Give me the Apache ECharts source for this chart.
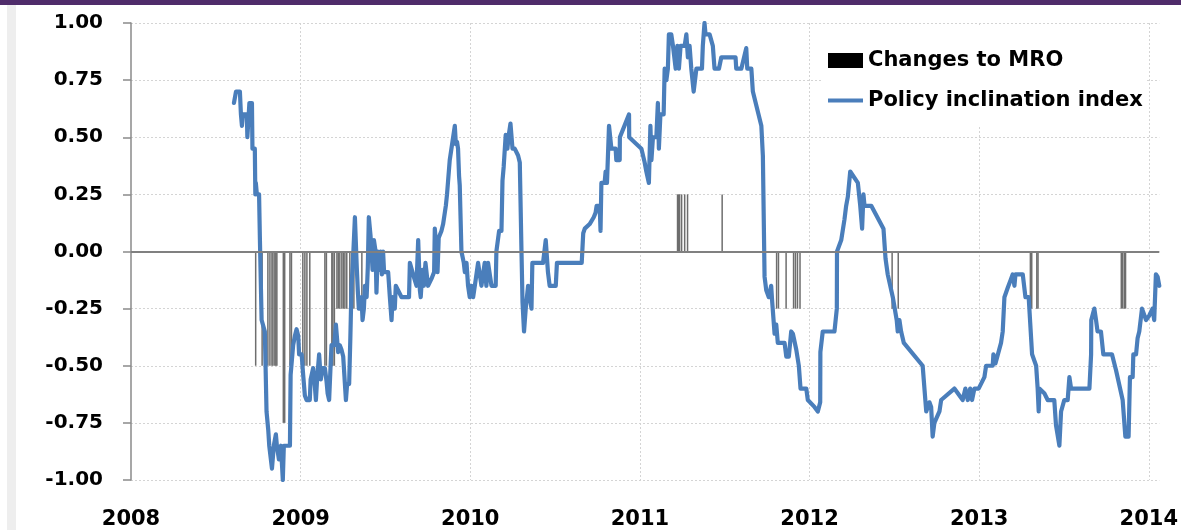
<!DOCTYPE html>
<html>
<head>
<meta charset="utf-8">
<script src="https://cdn.jsdelivr.net/npm/echarts@6/dist/echarts.min.js"></script>
<style>
html,body{margin:0;padding:0;background:#fff;}
#chart{width:1181px;height:530px;}
</style>
</head>
<body>
<div id="chart"></div>
<script>
// ---- DATA (x in decimal years) ----
const yearTicks = [2008, 2009, 2010, 2011, 2012, 2013, 2014];
const valueTicks = [-1.00, -0.75, -0.50, -0.25, 0.00, 0.25, 0.50, 0.75, 1.00];

const policyDates = [
2008.607,2008.613,2008.619,2008.642,2008.648,2008.654,2008.660,2008.683,2008.686,2008.695,
2008.698,2008.713,2008.716,2008.730,2008.733,2008.736,2008.742,2008.755,2008.760,2008.770,
2008.789,2008.799,2008.809,2008.815,2008.825,2008.831,2008.842,2008.854,2008.860,2008.872,
2008.884,2008.890,2008.895,2008.901,2008.937,2008.941,2008.956,2008.966,2008.976,2008.986,
2008.991,2009.006,2009.015,2009.025,2009.035,2009.054,2009.059,2009.070,2009.074,2009.084,
2009.090,2009.097,2009.109,2009.119,2009.129,2009.143,2009.153,2009.159,2009.168,2009.176,
2009.182,2009.198,2009.208,2009.215,2009.221,2009.231,2009.241,2009.251,2009.267,2009.274,
2009.286,2009.293,2009.300,2009.308,2009.320,2009.330,2009.331,2009.337,2009.343,2009.359,
2009.365,2009.373,2009.379,2009.389,2009.396,2009.402,2009.412,2009.418,2009.424,2009.432,
2009.442,2009.447,2009.455,2009.461,2009.471,2009.479,2009.486,2009.492,2009.516,2009.526,
2009.536,2009.542,2009.555,2009.561,2009.595,2009.604,2009.639,2009.644,2009.654,2009.663,
2009.683,2009.693,2009.703,2009.708,2009.718,2009.726,2009.736,2009.746,2009.751,2009.771,
2009.787,2009.791,2009.801,2009.807,2009.814,2009.830,2009.840,2009.856,2009.863,2009.869,
2009.879,2009.889,2009.909,2009.915,2009.922,2009.928,2009.934,2009.938,2009.948,2009.962,
2009.968,2009.978,2009.987,2009.997,2010.007,2010.017,2010.027,2010.037,2010.046,2010.056,
2010.066,2010.085,2010.095,2010.105,2010.125,2010.150,2010.154,2010.170,2010.184,2010.190,
2010.197,2010.209,2010.219,2010.227,2010.237,2010.249,2010.262,2010.282,2010.292,2010.302,
2010.308,2010.317,2010.327,2010.341,2010.351,2010.361,2010.366,2010.429,2010.445,2010.458,
2010.468,2010.504,2010.511,2010.645,2010.657,2010.666,2010.675,2010.704,2010.728,2010.739,2010.745,
2010.763,2010.768,2010.773,2010.792,2010.798,2010.806,2010.818,2010.832,2010.857,2010.861,2010.881,
2010.882,2010.936,2010.937,2011.009,2011.028,2011.038,2011.053,2011.062,2011.068,2011.077,
2011.097,2011.106,2011.112,2011.121,2011.140,2011.146,2011.156,2011.165,2011.171,2011.185,
2011.195,2011.211,2011.221,2011.230,2011.240,2011.264,2011.274,2011.283,2011.293,2011.303,
2011.317,2011.333,2011.366,2011.371,2011.381,2011.387,2011.411,2011.430,2011.440,2011.466,
2011.480,2011.564,2011.568,2011.598,2011.627,2011.633,2011.657,2011.666,2011.716,2011.725,
2011.735,2011.745,2011.760,2011.774,2011.780,2011.794,2011.804,2011.813,2011.853,2011.863,
2011.878,2011.892,2011.902,2011.922,2011.937,2011.947,2011.981,2011.990,2012.029,2012.049,
2012.063,2012.064,2012.078,2012.147,2012.161,2012.162,2012.187,2012.206,2012.216,2012.226,
2012.240,2012.285,2012.299,2012.310,2012.318,2012.324,2012.364,2012.436,2012.448,2012.461,
2012.491,2012.514,2012.520,2012.530,2012.540,2012.550,2012.556,2012.667,2012.688,2012.707,
2012.717,2012.726,2012.736,2012.766,2012.776,2012.854,2012.903,2012.919,2012.933,2012.947,
2012.958,2012.972,2012.997,2013.031,2013.041,2013.080,2013.084,2013.096,2013.129,2013.139,
2013.149,2013.168,2013.188,2013.198,2013.208,2013.214,2013.257,2013.273,2013.292,2013.312,
2013.336,2013.345,2013.351,2013.355,2013.384,2013.404,2013.443,2013.453,2013.473,2013.483,
2013.502,2013.522,2013.532,2013.542,2013.650,2013.660,2013.661,2013.679,2013.689,2013.698,
2013.718,2013.732,2013.783,2013.807,2013.846,2013.862,2013.881,2013.889,2013.905,2013.909,
2013.925,2013.934,2013.944,2013.960,2013.969,2013.984,2014.003,2014.022,2014.032,2014.042,
2014.052,2014.062
];
const policyValues = [
0.65,0.65,0.70,0.70,0.60,0.55,0.60,0.60,0.50,0.50,
0.65,0.65,0.45,0.45,0.25,0.30,0.25,0.25,0.05,-0.30,
-0.35,-0.70,-0.78,-0.85,-0.85,-0.95,-0.85,-0.80,-0.85,-0.91,
-0.85,-0.85,-1.00,-0.85,-0.85,-0.54,-0.41,-0.37,-0.34,-0.37,
-0.45,-0.45,-0.54,-0.63,-0.65,-0.65,-0.56,-0.56,-0.51,-0.59,
-0.65,-0.56,-0.45,-0.56,-0.51,-0.51,-0.57,-0.62,-0.65,-0.51,
-0.41,-0.41,-0.32,-0.32,-0.44,-0.41,-0.43,-0.46,-0.65,-0.58,
-0.58,-0.38,-0.15,-0.05,0.15,0.15,-0.07,-0.17,-0.25,-0.20,
-0.30,-0.25,-0.15,-0.20,-0.07,0.15,0.07,0.00,-0.08,0.05,
0.00,-0.18,0.00,-0.08,0.00,-0.10,0.00,-0.09,-0.09,-0.20,
-0.30,-0.20,-0.25,-0.15,-0.20,-0.20,-0.20,-0.05,-0.05,-0.10,
-0.15,0.05,-0.17,-0.20,-0.08,-0.15,-0.05,-0.05,-0.15,-0.12,
-0.09,0.10,0.00,-0.09,0.06,0.09,0.12,0.20,0.25,0.25,
0.40,0.40,0.55,0.47,0.48,0.45,0.33,0.29,0.00,-0.05,
-0.09,-0.05,-0.15,-0.20,-0.15,-0.20,-0.15,-0.15,-0.05,-0.05,
-0.15,-0.05,-0.15,-0.05,-0.15,-0.15,0.00,0.09,0.09,0.31,
0.37,0.51,0.45,0.51,0.56,0.45,0.45,0.42,0.39,0.00,
-0.22,-0.35,-0.25,-0.15,-0.15,-0.25,-0.05,-0.05,0.05,-0.09,
-0.15,-0.15,-0.05,-0.05,-0.05,0.08,0.10,0.12,0.15,0.17,0.20,
0.20,0.09,0.30,0.30,0.35,0.30,0.55,0.45,0.45,0.40,0.40,
0.50,0.60,0.50,0.45,0.39,0.35,0.30,0.55,0.40,0.50,
0.50,0.65,0.45,0.60,0.60,0.80,0.75,0.80,0.95,0.95,
0.90,0.80,0.90,0.80,0.90,0.90,0.95,0.85,0.90,0.80,
0.70,0.80,0.80,0.90,1.00,0.95,0.95,0.90,0.80,0.80,
0.85,0.85,0.80,0.80,0.89,0.80,0.80,0.70,0.55,0.42,
-0.11,-0.17,-0.20,-0.15,-0.22,-0.36,-0.32,-0.40,-0.40,-0.46,
-0.46,-0.35,-0.36,-0.43,-0.50,-0.60,-0.60,-0.65,-0.68,-0.70,
-0.66,-0.44,-0.35,-0.35,-0.25,0.00,0.05,0.14,0.20,0.24,
0.35,0.30,0.20,0.10,0.25,0.20,0.20,0.10,-0.03,-0.10,
-0.20,-0.30,-0.35,-0.30,-0.35,-0.35,-0.40,-0.50,-0.70,-0.66,
-0.68,-0.81,-0.75,-0.70,-0.65,-0.60,-0.65,-0.60,-0.65,-0.60,
-0.65,-0.60,-0.60,-0.55,-0.50,-0.50,-0.45,-0.49,-0.40,-0.35,
-0.20,-0.16,-0.12,-0.10,-0.15,-0.10,-0.10,-0.20,-0.20,-0.45,
-0.50,-0.60,-0.70,-0.60,-0.62,-0.65,-0.65,-0.76,-0.85,-0.70,
-0.65,-0.65,-0.55,-0.60,-0.60,-0.45,-0.30,-0.25,-0.30,-0.35,
-0.35,-0.45,-0.45,-0.52,-0.65,-0.81,-0.81,-0.55,-0.55,-0.45,
-0.45,-0.38,-0.35,-0.25,-0.25,-0.30,-0.28,-0.25,-0.30,-0.10,
-0.11,-0.15
];

const mroDates = [
2008.735,2008.773,2008.807,2008.819,2008.831,2008.837,2008.848,2008.854,2008.860,
2008.898,2008.906,2008.937,2008.946,
2009.013,2009.025,2009.037,2009.054,2009.143,2009.152,2009.184,2009.190,2009.199,
2009.214,2009.222,2009.231,2009.243,2009.252,2009.261,2009.272,2009.290,2009.302,2009.314,2009.361,
2011.222,2011.228,2011.234,2011.246,2011.264,2011.281,2011.485,
2011.806,2011.817,2011.862,2011.906,2011.917,2011.929,2011.944,
2012.487,2012.523,
2013.302,2013.310,2013.340,2013.347,
2013.838,2013.846,2013.856,2013.863
];
const mroValues = [
-0.50,-0.50,-0.50,-0.50,-0.50,-0.50,-0.50,-0.50,-0.50,
-0.75,-0.75,-0.50,-0.50,
-0.50,-0.50,-0.50,-0.50,-0.50,-0.50,-0.50,-0.50,-0.50,
-0.25,-0.25,-0.25,-0.25,-0.25,-0.25,-0.25,-0.25,-0.25,-0.25,-0.25,
0.25,0.25,0.25,0.25,0.25,0.25,0.25,
-0.25,-0.25,-0.25,-0.25,-0.25,-0.25,-0.25,
-0.25,-0.25,
-0.25,-0.25,-0.25,-0.25,
-0.25,-0.25,-0.25,-0.25
];

const seriesNames = ['Changes to MRO', 'Policy inclination index'];

// ---- CHART ----
const policyData = policyDates.map((d, i) => [d, policyValues[i]]);
const mroData = mroDates.map((d, i) => [d, mroValues[i]]);
const FONT = 'DejaVu Sans';

const chart = echarts.init(document.getElementById('chart'), null, {renderer: 'canvas'});
chart.setOption({
  animation: false,
  backgroundColor: '#ffffff',
  graphic: [
    {type: 'rect', left: 0, top: 0, shape: {width: 1181, height: 5}, style: {fill: '#4f2c6a'}, z: 100},
    {type: 'rect', left: 7, top: 5, shape: {width: 9, height: 525}, style: {fill: '#eeeeee'}, z: 0}
  ],
  grid: {left: 131, right: 21, top: 23, bottom: 49, containLabel: false},
  legend: {
    orient: 'vertical',
    left: 822,
    top: 25,
    padding: [25, 4, 14, 6],
    backgroundColor: '#ffffff',
    itemWidth: 35,
    itemHeight: 15,
    itemGap: 19,
    selectedMode: false,
    textStyle: {fontFamily: FONT, fontWeight: 'bold', fontSize: 21, color: '#000000'},
    data: [
      {name: seriesNames[0], icon: 'rect', itemStyle: {color: '#000000'}},
      {name: seriesNames[1], icon: 'path://M0,0H36V4H0Z'}
    ],
    z: 20
  },
  xAxis: {
    type: 'value',
    min: yearTicks[0],
    max: 2014.062,
    interval: 1,
    axisLine: {show: false},
    axisTick: {show: false},
    splitLine: {show: true, showMinLine: false, showMaxLine: false,
      lineStyle: {color: '#d4d4d4', width: 1, type: [2, 2]}},
    axisLabel: {
      margin: 29,
      fontFamily: FONT, fontWeight: 'bold', fontSize: 21, color: '#000000',
      formatter: v => (yearTicks.indexOf(Math.round(v * 1000) / 1000) >= 0 ? String(v) : '')
    }
  },
  yAxis: {
    type: 'value',
    min: valueTicks[0],
    max: valueTicks[valueTicks.length - 1],
    interval: 0.25,
    axisLine: {show: true, lineStyle: {color: '#8a8a8a', width: 1.5}},
    axisTick: {show: true, inside: false, length: 8, lineStyle: {color: '#8a8a8a', width: 1.5}},
    splitLine: {show: true, lineStyle: {color: '#d4d4d4', width: 1, type: [2, 2]}},
    axisLabel: {
      margin: 28,
      fontFamily: FONT, fontWeight: 'bold', fontSize: 20, color: '#000000',
      formatter: v => v.toFixed(2)
    }
  },
  series: [
    {
      name: seriesNames[0],
      type: 'bar',
      data: mroData,
      barWidth: 1.5,
      itemStyle: {color: '#6e6e6e'},
      z: 2,
      markLine: {
        silent: true,
        symbol: 'none',
        label: {show: false},
        lineStyle: {color: '#808080', width: 2, type: 'solid'},
        data: [{yAxis: 0}]
      }
    },
    {
      name: seriesNames[1],
      type: 'line',
      data: policyData,
      symbol: 'none',
      showSymbol: false,
      color: '#4a7ebb',
      lineStyle: {color: '#4a7ebb', width: 4.2, cap: 'round', join: 'round'},
      z: 3
    }
  ]
});
</script>
</body>
</html>
